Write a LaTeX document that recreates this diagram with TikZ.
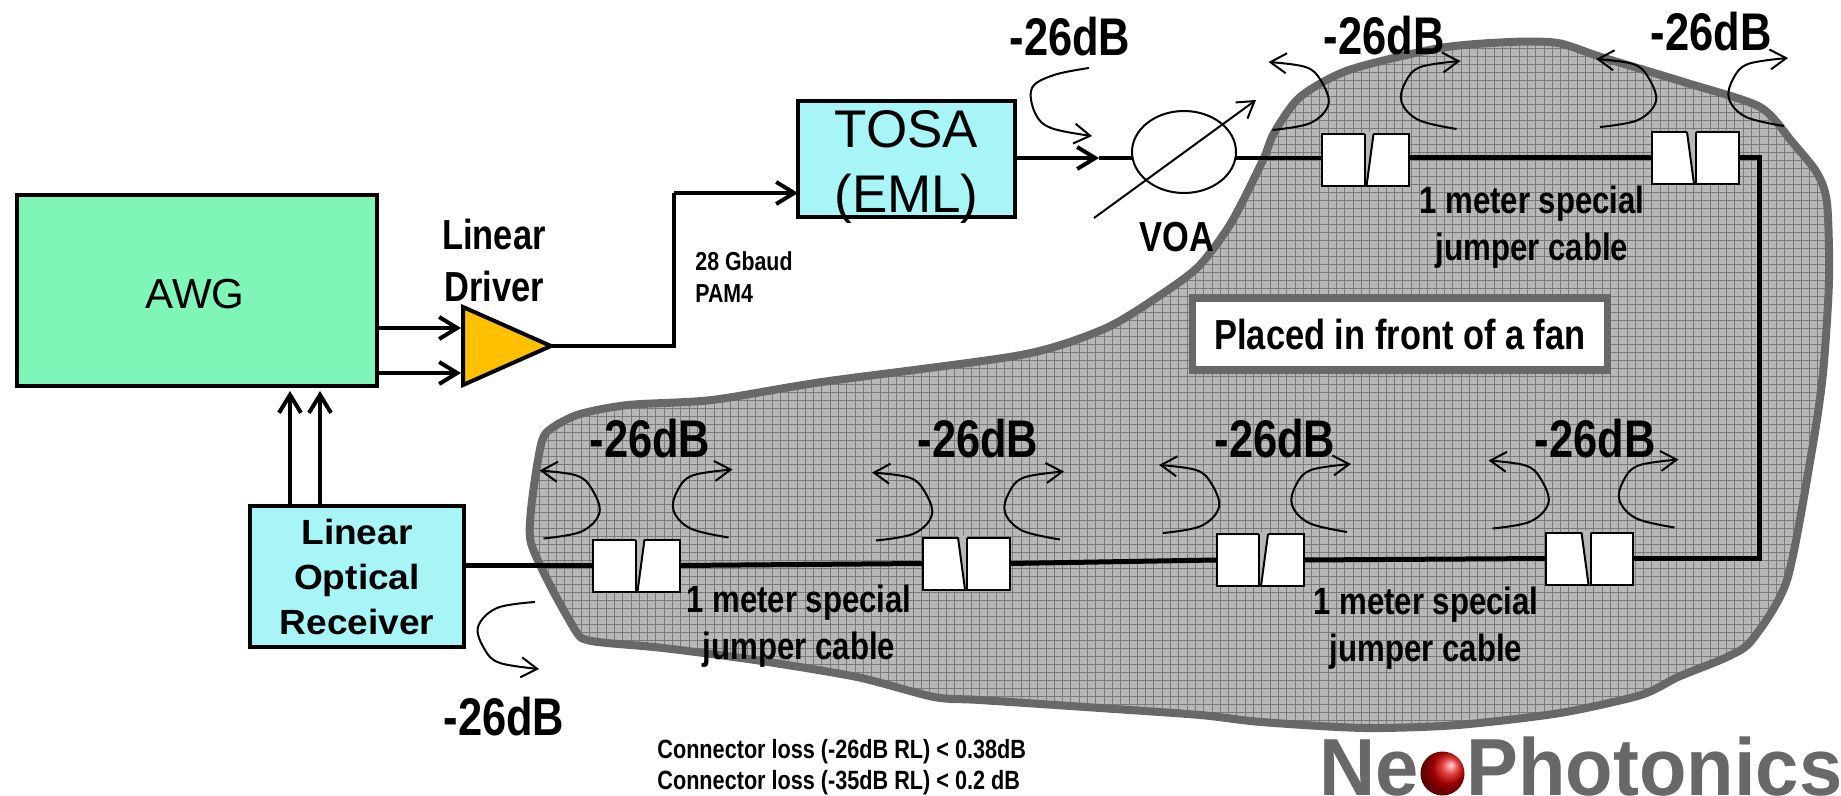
\documentclass[tikz,border=0pt]{standalone}
\usepackage{fontspec}
\usepackage{tikz}
\usetikzlibrary{arrows.meta,shapes.geometric}
\setmainfont{Liberation Sans}
\newfontfamily\narrowfont[FakeStretch=0.82]{Liberation Sans}
\newfontfamily\rxfont[FakeStretch=1.06]{Liberation Sans}
\newfontfamily\logofont[FakeStretch=0.96]{Liberation Sans}
\definecolor{awggreen}{HTML}{80F5B8}
\definecolor{boxcyan}{HTML}{A8F5F8}
\definecolor{drvorange}{HTML}{FFC000}
\definecolor{blobgrey}{HTML}{B8B8B8}
\definecolor{gridgrey}{HTML}{7A7A7A}
\definecolor{edgegrey}{HTML}{686868}
\tikzset{
  box/.style={draw,line width=2pt,inner sep=0pt,outer sep=0pt},
  sig/.style={line width=2pt,-{Straight Barb[length=9pt,width=11pt]}},
  fiber/.style={line width=2.5pt},
  echo/.style={line width=1pt,-{Straight Barb[length=8pt,width=10pt]}},
  conn/.style={draw,fill=white,line width=1pt,minimum width=43.5pt,minimum height=26pt,inner sep=0pt,outer sep=0pt},
  dblabel/.style={font=\narrowfont\bfseries\fontsize{26.5}{30}\selectfont,inner sep=0pt},
  jumper/.style={font=\narrowfont\bfseries\fontsize{19}{23.5}\selectfont,align=center,inner sep=0pt},
  bold21/.style={font=\narrowfont\bfseries\fontsize{21}{26}\selectfont,align=center,inner sep=0pt},
  small/.style={font=\narrowfont\bfseries\fontsize{13}{16}\selectfont,align=left,inner sep=0pt,anchor=west},
  note/.style={font=\narrowfont\bfseries\fontsize{13.2}{15.8}\selectfont,align=left,inner sep=0pt,anchor=west},
  logo/.style={font=\logofont\bfseries\fontsize{40.5}{40.5}\selectfont,text=edgegrey,inner sep=0pt,anchor=base west}
}
\newcommand{\blobpath}{plot[smooth cycle,tension=.45] coordinates {
  (1156,298) (1198,267) (1231,223) (1263,160) (1274,133) (1300,97) (1349,70) (1440,48)
  (1510,42) (1558,43) (1601,57) (1687,83) (1760,107) (1793,143) (1817,173) (1827,203)
  (1829,280) (1823,373) (1812,450) (1787,580) (1752,640) (1727,657) (1678,677) (1641,695)
  (1560,713) (1458,725) (1364,728) (1261,722) (1200,715) (1100,708) (980,700) (934,697)
  (857,677) (755,660) (663,648) (607,643) (587,640) (577,633) (551,587) (531,543)
  (531,510) (538,460) (546,433) (577,415) (628,405) (712,400) (822,382) (1021,355) (1104,329)}}
\newcommand{\slashgap}[1]{
  \fill[blobgrey] ([shift={(-1,-28)}]#1.center) -- ([shift={(8,-28)}]#1.center) -- ([shift={(1,26)}]#1.center) -- ([shift={(-1,26)}]#1.center) -- cycle;
  \draw[line width=1pt] ([shift={(-1,-26)}]#1.center) -- ([shift={(-1,26)}]#1.center);
  \draw[line width=1pt] ([shift={(8,-26)}]#1.center) -- ([shift={(1,26)}]#1.center);
}
\newcommand{\backgap}[1]{
  \fill[blobgrey] ([shift={(-8,-28)}]#1.center) -- ([shift={(1,-28)}]#1.center) -- ([shift={(1,26)}]#1.center) -- ([shift={(-1,26)}]#1.center) -- cycle;
  \draw[line width=1pt] ([shift={(-8,-26)}]#1.center) -- ([shift={(-1,26)}]#1.center);
  \draw[line width=1pt] ([shift={(1,-26)}]#1.center) -- ([shift={(1,26)}]#1.center);
}

\begin{document}
\begin{tikzpicture}[x=0.5pt,y=-0.5pt]
\useasboundingbox (0,0) rectangle (1841,796);
% grey area
\fill[blobgrey] \blobpath;
\begin{scope}
\clip \blobpath;
\draw[gridgrey,line width=.25pt,xstep=4.15pt,ystep=4pt] (500,30) grid (1841,740);
\end{scope}
\draw[edgegrey,line width=4pt,line join=round] \blobpath;

\node (awg) at (197,290.5) [box,fill=awggreen,minimum width=180pt,minimum height=95.5pt] {};
\node (awglab) at (195,294) [font=\fontsize{21}{26}\selectfont,inner sep=0pt] {AWG};
\node (drv) at (551,346) [box,fill=drvorange,isosceles triangle,isosceles triangle stretches,minimum width=39pt,minimum height=44pt,anchor=apex] {};
\node (tosa) at (906.5,159) [box,fill=boxcyan,minimum width=108.5pt,minimum height=58pt] {};
\node (tosalab) at (906.5,167) [align=center,inner sep=0pt,font=\fontsize{26.5}{32.5}\selectfont] {TOSA\\(EML)};
\node (rx) at (357,576.5) [box,fill=boxcyan,minimum width=107pt,minimum height=70.5pt,align=center,font=\rxfont\bfseries\fontsize{17.5}{22.5}\selectfont] {Linear\\Optical\\Receiver};
\node (voa) at (1184,152) [draw,fill=white,ellipse,line width=1pt,minimum width=52pt,minimum height=41pt,inner sep=0pt,outer sep=0pt] {};

\node (c1) at (636.5,565.5) [conn] {};
\node (c2) at (966,563.5) [conn] {};
\node (c3) at (1260,560) [conn] {};
\node (c4) at (1589.5,558.5) [conn] {};
\node (c5) at (1365.5,160) [conn] {};
\node (c6) at (1695,158) [conn] {};
\slashgap{c1}
\backgap{c2}
\slashgap{c3}
\backgap{c4}
\slashgap{c5}
\backgap{c6}

% signal lines
\coordinate (inA) at (461,328);
\coordinate (inB) at (461,373);
\coordinate (upA) at (290,391);
\coordinate (upB) at (320,391);
\coordinate (bendup) at (674,193);
\draw[sig] (awg.east |- inA) -- (inA);
\draw[sig] (awg.east |- inB) -- (inB);
\draw[sig] (upA |- rx.north) -- (upA);
\draw[sig] (upB |- rx.north) -- (upB);
\draw[line width=2pt] (drv.apex) -| (bendup);
\draw[sig] (bendup) -- (bendup -| tosa.west);

% fiber
\coordinate (midtip) at (1099,158);
\coordinate (bendr) at (1759,350);
\draw[line width=2pt,-{Straight Barb[length=9pt,width=11pt]}] (tosa.east |- midtip) -- (midtip);
\draw[line width=2pt] (midtip) -- (midtip -| voa.west);
\draw[line width=2pt] (voa.east |- midtip) -- (c5.west |- midtip);
\draw[fiber] (c5.east |- c6) -- (c6.west);
\draw[fiber] (c6.east) -| (bendr) |- (c4.east);
\draw[fiber] (c4.west) -- (c3.east);
\draw[fiber] (c3.west) -- (c2.east);
\draw[fiber] (c2.west) -- (c1.east);
\draw[fiber] (c1.west) -- (rx.east |- c1);

% VOA arrow
\coordinate (voaA) at (1094,218);
\coordinate (voaB) at (1256,100);
\draw[echo] (voaA) -- (voaB);

% reflections at the connectors
\foreach \c/\dl/\dr/\dy in {c1/0/2/0,c2/3/4/4,c3/-4/-3/0,c4/-4/-5/-3,c5/0/1/-3,c6/-2/-1/-4}{
  \begin{scope}[shift={(\c.center)}]
  \draw[echo,shift={(\dl,\dy)}] plot[smooth,tension=.6] coordinates {(-93,-27) (-55,-34) (-37,-53) (-45,-77) (-60,-90) (-97,-95)};
  \draw[echo,shift={(\dr,\dy)}] plot[smooth,tension=.6] coordinates {(90,-28) (52,-37) (35,-55) (39,-75) (54,-90) (94,-96)};
  \end{scope}
}
\draw[echo] plot[smooth,tension=.6] coordinates {(1089,68) (1054,75) (1032,88) (1035,113) (1051,128) (1092,136)};
\draw[echo] plot[smooth,tension=.6] coordinates {(535,602) (497,608) (478,627) (485,650) (500,663) (539,669)};

% labels
\node (db0) at (1070,37) [dblabel] {-26dB};
\node (db1) at (1384,36) [dblabel] {-26dB};
\node (db2) at (1711,32) [dblabel] {-26dB};
\node (db3) at (650,439) [dblabel] {-26dB};
\node (db4) at (978,439) [dblabel] {-26dB};
\node (db5) at (1275,439) [dblabel] {-26dB};
\node (db6) at (1595,439) [dblabel] {-26dB};
\node (db7) at (504,717) [dblabel] {-26dB};
\node (voalab) at (1177,237) [bold21] {VOA};
\node (drvlab) at (494,260) [bold21] {Linear\\Driver};
\node (jump1) at (1532,227) [jumper] {1 meter special\\jumper cable};
\node (jump2) at (799,626) [jumper] {1 meter special\\jumper cable};
\node (jump3) at (1426,628) [jumper] {1 meter special\\jumper cable};
\node (baud) at (695,277) [small] {28 Gbaud\\PAM4};
\node (fan) at (1400,334) [draw=edgegrey,fill=white,line width=3.6pt,minimum width=207.5pt,minimum height=36pt,inner sep=0pt,font=\narrowfont\bfseries\fontsize{21}{26}\selectfont] {Placed in front of a fan};
\node (loss) at (657,767) [note] {Connector loss (-26dB RL) < 0.38dB\\Connector loss (-35dB RL) < 0.2 dB};

% logo
\node (logoNe) at (1319,795) [logo] {Ne};
\node (logoPh) at (1466,795) [logo] {Photonics};
\node (logoball) at (1442.5,773.5) [circle,minimum size=22pt,inner sep=0pt,shading=ball,ball color=red!85!black,shading angle=-90] {};
\end{tikzpicture}
\end{document}
